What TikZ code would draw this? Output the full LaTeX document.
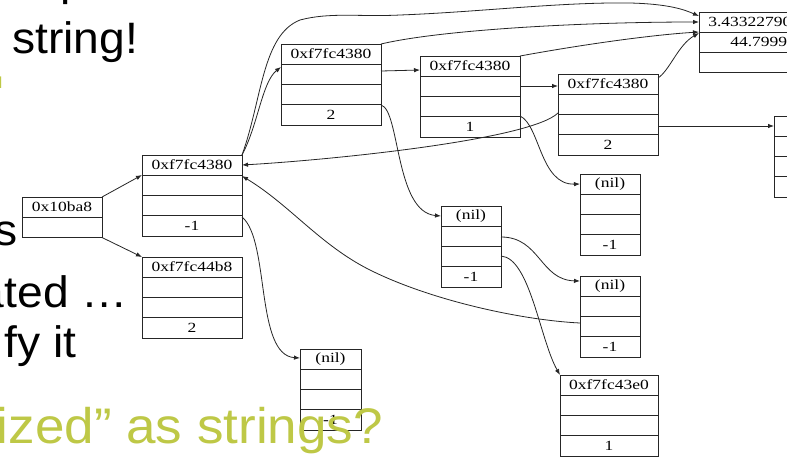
\documentclass[tikz,border=0pt]{standalone}
\usepackage{fontspec}
\setmainfont{Liberation Serif}
\newfontfamily\slidefont{Liberation Sans}
\usetikzlibrary{arrows.meta}
\definecolor{slidegreen}{RGB}{190,200,70}
\def\rowh{20.25pt}
% record box: name, x, y (top-left), width, rows, first-row text, last-row text
\newcommand\mkrec[7]{%
  \node[recbox, minimum width=#4pt, minimum height={#5*\rowh}, anchor=north west] (#1) at (#2,#3) {};
  \foreach \k in {2,...,#5}
    \draw[recline] ([yshift={-(\k-1)*\rowh}]#1.north west) -- ([yshift={-(\k-1)*\rowh}]#1.north east);
  \node[rectext] (#1-t) at ([yshift={-0.5*\rowh}]#1.north) {#6};
  \node[rectext] (#1-b) at ([yshift={0.5*\rowh}]#1.south) {#7};
}
\begin{document}
\begin{tikzpicture}[x=1pt,y=-1pt,
  recbox/.style={draw=black!85, fill=white, line width=0.9pt, inner sep=0pt, outer sep=0pt},
  recline/.style={draw=black!85, line width=0.9pt},
  rectext/.style={font=\fontsize{14}{14}\selectfont, xscale=1.25, inner sep=0pt},
  link/.style={draw=black!85, line width=0.8pt, -{Latex[length=6pt,width=4.5pt]}},
  bigtext/.style={font=\slidefont\fontsize{44}{44}\selectfont, xscale=1.05, inner sep=0pt},
  greentext/.style={font=\slidefont\fontsize{50}{50}\selectfont, xscale=1.06, inner sep=0pt, text=slidegreen}]

\useasboundingbox (0,0) rectangle (787,456);
\clip (0,0) rectangle (787,456);
\fill[white] (0,0) rectangle (787,456);

% slide text behind the diagram
\node[bigtext, anchor=base west] (pfrag) at (60,-5) {p};
\node[bigtext, anchor=base west] (t1) at (12,53) {string!};
\node[greentext, font=\slidefont\fontsize{16}{16}\selectfont, anchor=base east] (gfrag) at (2.5,88) {l};
\node[bigtext, anchor=base east] (t2) at (18,245) {s};
\node[bigtext, anchor=base east] (t3) at (128,307) {ated …};
\node[bigtext, anchor=base east] (t4) at (77,357) {fy it};

% records
\mkrec{A}{22}{197}{80}{2}{0x10ba8}{}
\mkrec{B}{142}{155}{100}{4}{0xf7fc4380}{-1}
\mkrec{C}{142}{257}{100}{4}{0xf7fc44b8}{2}
\mkrec{D}{300}{349}{61}{4}{(nil)}{-1}
\mkrec{E}{281}{44}{100}{4}{0xf7fc4380}{2}
\mkrec{F}{420}{56}{100}{4}{0xf7fc4380}{1}
\mkrec{G}{558}{74}{100}{4}{0xf7fc4380}{2}
\mkrec{H}{699}{12}{110}{3}{}{}
\node[rectext, anchor=west] (H-1) at (708,22) {3.43322790};
\node[rectext, anchor=west] (H-2) at (730,42) {44.7999};
\mkrec{I}{774}{116}{60}{4}{}{}
\mkrec{J}{580}{174}{60}{4}{(nil)}{-1}
\mkrec{K}{441}{206}{60}{4}{(nil)}{-1}
\mkrec{L}{580}{276}{60}{4}{(nil)}{-1}
\mkrec{M}{560}{375}{98}{4}{0xf7fc43e0}{1}

% pointers
\draw[link] (A.north east) -- ([yshift=-20pt]B.north west);
\draw[link] (A.south east) -- (C.north west);
\draw[link] (B.north east) .. controls (258,125) and (262,82) .. ([yshift=-23pt]E.north west);
\draw[link] (B.north east) .. controls (262,100) and (262,35) .. (300,20)
  .. controls (330,12) and (360,17) .. (400,15)
  .. controls (480,12) and (560,2) .. (630,3)
  .. controls (670,4) and (685,10) .. ([yshift=-4pt]H.north west);
\draw[link] (E.north east) .. controls (440,30) and (580,22) .. ([yshift=-10pt]H.north west);
\draw[link] (F.north east) .. controls (580,45) and (650,35) .. ([yshift=-20pt]H.north west);
\draw[link] ([yshift=-4pt]G.north east) .. controls (670,70) and (678,45) .. ([yshift=-21pt]H.north west);
\draw[link] ([yshift=-27pt]E.north east) -- ([yshift=-14pt]F.north west);
\draw[link] ([yshift=-30pt]F.north east) -- ([yshift=-12pt]G.north west);
\draw[link] ([yshift=-52pt]G.north east) -- ([yshift=-10pt]I.north west);
\draw[link] ([yshift=-39pt]G.north west) .. controls (530,140) and (330,160) .. ([yshift=-10pt]B.north east);
\draw[link] ([yshift=-47pt]L.north west) .. controls (520,320) and (430,300) .. (370,270)
  .. controls (320,245) and (290,205) .. ([yshift=-21pt]B.north east);
\draw[link] ([yshift=-62pt]B.north east) .. controls (270,240) and (255,355) .. ([yshift=-9pt]D.north west);
\draw[link] ([yshift=-61pt]E.north east) .. controls (400,110) and (395,212) .. ([yshift=-10pt]K.north west);
\draw[link] ([yshift=-60pt]F.north east) .. controls (540,125) and (540,185) .. ([yshift=-10pt]J.north west);
\draw[link] ([yshift=-31pt]K.north east) .. controls (540,237) and (540,280) .. ([yshift=-5pt]L.north west);
\draw[link] ([yshift=-50pt]K.north east) .. controls (530,258) and (540,340) .. (M.north west);

% slide text in front of the diagram
\node[greentext, anchor=base east] (t5) at (383,443) {ized” as strings?};
\end{tikzpicture}
\end{document}
